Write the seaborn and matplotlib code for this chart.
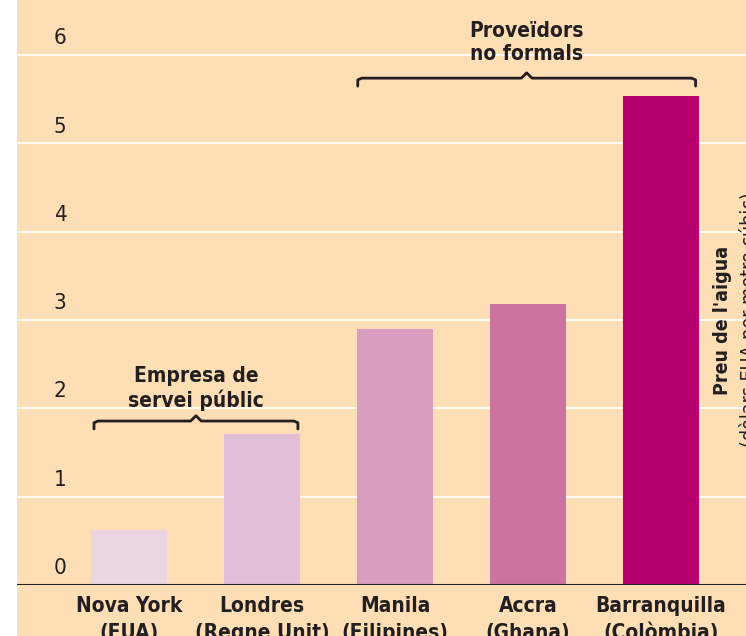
import matplotlib
matplotlib.use("Agg")
import matplotlib.pyplot as plt
import seaborn as sns
import pandas as pd

cities = ["Nova York\n(EUA)", "Londres\n(Regne Unit)", "Manila\n(Filipines)",
          "Accra\n(Ghana)", "Barranquilla\n(Colòmbia)"]
prices = [0.62, 1.71, 2.90, 3.18, 5.54]
bar_colors = ["#EBD5E3", "#E3BFD7", "#D99DBF", "#CC73A0", "#B5006E"]
yticks = [0, 1, 2, 3, 4, 5, 6]
group_labels = ["Empresa de\nservei públic", "Proveïdors\nno formals"]
ylabel_main = "Preu de l'aigua"
ylabel_sub = "(dòlars EUA per metre cúbic)"

sns.set_theme(style="white")
FAM = ["DejaVu Sans"]
plt.rcParams["font.family"] = FAM
plt.rcParams["font.stretch"] = "condensed"

BG = "#FDDEB5"
TXT = "#231F20"

W, H = 746, 636
fig = plt.figure(figsize=(W / 100, H / 100), dpi=100, facecolor="white")
# peach background panel
fig.patches.append(plt.Rectangle((17 / W, 0), 1 - 17 / W, 1, transform=fig.transFigure,
                                 facecolor=BG, edgecolor="none", zorder=-10))

ax = fig.add_axes([17 / W, 1 - 585 / H, 1 - 17 / W, 585 / H])
ax.set_facecolor("none")

df = pd.DataFrame({"city": cities, "price": prices})
sns.barplot(data=df, x="city", y="price", hue="city", palette=bar_colors,
            width=0.57, legend=False, ax=ax, zorder=2, saturation=1, linewidth=0)

ax.set_xlim(-0.842, 4.639)
ax.set_ylim(0, 6.625)
for s in ax.spines.values():
    s.set_visible(False)
ax.set_xlabel("")
ax.set_ylabel("")
ax.set_yticks([])

for v in yticks:
    if v > 0:
        ax.axhline(v, color="white", lw=1.3, zorder=1)
    ax.annotate(str(v), (-0.519, v), xytext=(0, 5), textcoords="offset points",
                ha="center", va="bottom", fontsize=16, color=TXT, zorder=3)
ax.axhline(0, color=TXT, lw=2.2, zorder=4)

ax.tick_params(axis="x", length=0, pad=8)
ax.set_xticks(range(len(cities)))
ax.set_xticklabels(cities, fontsize=15, fontweight="bold", color=TXT, linespacing=1.4)
for lab in ax.get_xticklabels():
    lab.set_clip_on(False)


def bracket(x0, x1, y, tip=0.09, peak=0.06):
    xc = (x0 + x1) / 2
    xs = [x0, x0, x0 + 0.03, xc - 0.04, xc, xc + 0.04, x1 - 0.03, x1, x1]
    ys = [y - tip, y - 0.02, y, y, y + peak, y, y, y - 0.02, y - tip]
    ax.plot(xs, ys, color=TXT, lw=2.0, solid_joinstyle="round",
            solid_capstyle="round", zorder=5, clip_on=False)


bracket(-0.263, 1.27, 1.857)
bracket(1.72, 4.26, 5.74)
ax.text(0.504, 2.23, group_labels[0], ha="center", va="center", fontsize=15,
        fontweight="bold", color=TXT, linespacing=1.2, zorder=5)
ax.text(2.99, 6.14, group_labels[1], ha="center", va="center", fontsize=15,
        fontweight="bold", color=TXT, linespacing=1.2, zorder=5)

fig.text(722 / W, 1 - 320 / H, ylabel_main, rotation=90, ha="center", va="center",
         fontsize=14, fontweight="bold", color=TXT)
fig.text(749 / W, 1 - 320 / H, ylabel_sub, rotation=90, ha="center", va="center",
         fontsize=14, color=TXT)

fig.savefig("out.png", dpi=100, facecolor="white")
